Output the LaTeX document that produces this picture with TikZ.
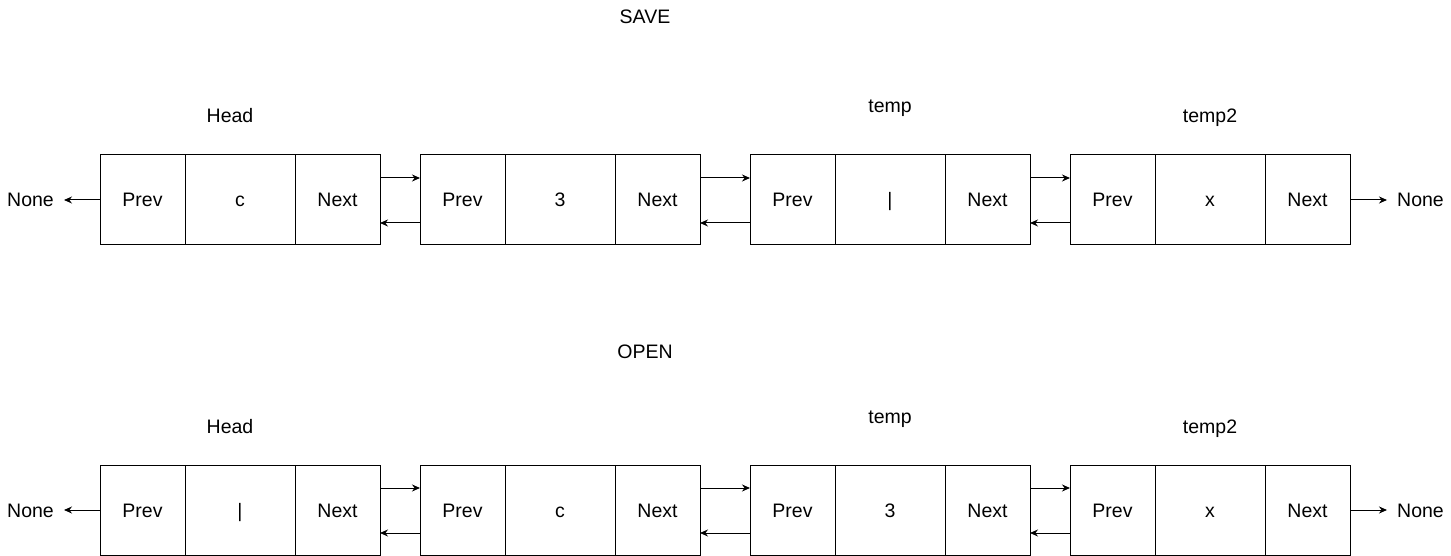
\documentclass[tikz,border=0pt]{standalone}
\usepackage{fontspec}
\setmainfont{Liberation Sans}
\usetikzlibrary{positioning,arrows.meta}

\tikzset{
  cell/.style={draw, line width=1pt, outer sep=0pt, minimum height=90pt, inner sep=0pt, text height=14pt, text depth=0pt},
  ptr/.style={minimum width=85pt},
  val/.style={minimum width=110pt},
  lbl/.style={inner sep=0pt, text height=14pt, text depth=0pt},
  none/.style={inner xsep=10pt, inner ysep=0pt, text height=14pt, text depth=0pt},
  arr/.style={line width=1pt, -{Stealth[length=8pt,width=7pt]}}
}

\begin{document}
\begin{tikzpicture}[x=1pt,y=-1pt,node distance=0pt,font=\fontsize{19.5}{23}\selectfont]
\useasboundingbox (0,0) rectangle (1451,556);

% SAVE row
\node[lbl] (save) at (645,17) {SAVE};
\node[lbl] (shead) at (230,116) {Head};
\node[lbl] (stemp) at (890,106) {temp};
\node[lbl] (stemptwo) at (1210,116) {temp2};

\node[cell,ptr] (s1p) at (142.5,200) {Prev};
\node[cell,val,right=of s1p] (s1v) {c};
\node[cell,ptr,right=of s1v] (s1n) {Next};

\node[cell,ptr] (s2p) at (462.5,200) {Prev};
\node[cell,val,right=of s2p] (s2v) {3};
\node[cell,ptr,right=of s2v] (s2n) {Next};

\node[cell,ptr] (s3p) at (792.5,200) {Prev};
\node[cell,val,right=of s3p] (s3v) {|};
\node[cell,ptr,right=of s3v] (s3n) {Next};

\node[cell,ptr] (s4p) at (1112.5,200) {Prev};
\node[cell,val,right=of s4p] (s4v) {x};
\node[cell,ptr,right=of s4v] (s4n) {Next};

\node[none] (sleft) at (30.5,200) {None};
\node[none] (sright) at (1420.5,200) {None};

\draw[arr] (s1p.west) -- (sleft.east);
\draw[arr] (s4n.east) -- (sright.west);
\draw[arr] ([yshift=22pt]s1n.east) -- ([yshift=22pt]s2p.west);
\draw[arr] ([yshift=-23pt]s2p.west) -- ([yshift=-23pt]s1n.east);
\draw[arr] ([yshift=22pt]s2n.east) -- ([yshift=22pt]s3p.west);
\draw[arr] ([yshift=-23pt]s3p.west) -- ([yshift=-23pt]s2n.east);
\draw[arr] ([yshift=22pt]s3n.east) -- ([yshift=22pt]s4p.west);
\draw[arr] ([yshift=-23pt]s4p.west) -- ([yshift=-23pt]s3n.east);

% OPEN row
\node[lbl] (open) at (645,351) {OPEN};
\node[lbl] (ohead) at (230,426) {Head};
\node[lbl] (otemp) at (890,416) {temp};
\node[lbl] (otemptwo) at (1210,426) {temp2};

\node[cell,ptr] (o1p) at (142.5,510) {Prev};
\node[cell,val,right=of o1p] (o1v) {|};
\node[cell,ptr,right=of o1v] (o1n) {Next};

\node[cell,ptr] (o2p) at (462.5,510) {Prev};
\node[cell,val,right=of o2p] (o2v) {c};
\node[cell,ptr,right=of o2v] (o2n) {Next};

\node[cell,ptr] (o3p) at (792.5,510) {Prev};
\node[cell,val,right=of o3p] (o3v) {3};
\node[cell,ptr,right=of o3v] (o3n) {Next};

\node[cell,ptr] (o4p) at (1112.5,510) {Prev};
\node[cell,val,right=of o4p] (o4v) {x};
\node[cell,ptr,right=of o4v] (o4n) {Next};

\node[none] (oleft) at (30.5,510) {None};
\node[none] (oright) at (1420.5,510) {None};

\draw[arr] (o1p.west) -- (oleft.east);
\draw[arr] (o4n.east) -- (oright.west);
\draw[arr] ([yshift=22pt]o1n.east) -- ([yshift=22pt]o2p.west);
\draw[arr] ([yshift=-23pt]o2p.west) -- ([yshift=-23pt]o1n.east);
\draw[arr] ([yshift=22pt]o2n.east) -- ([yshift=22pt]o3p.west);
\draw[arr] ([yshift=-23pt]o3p.west) -- ([yshift=-23pt]o2n.east);
\draw[arr] ([yshift=22pt]o3n.east) -- ([yshift=22pt]o4p.west);
\draw[arr] ([yshift=-23pt]o4p.west) -- ([yshift=-23pt]o3n.east);

\end{tikzpicture}
\end{document}
